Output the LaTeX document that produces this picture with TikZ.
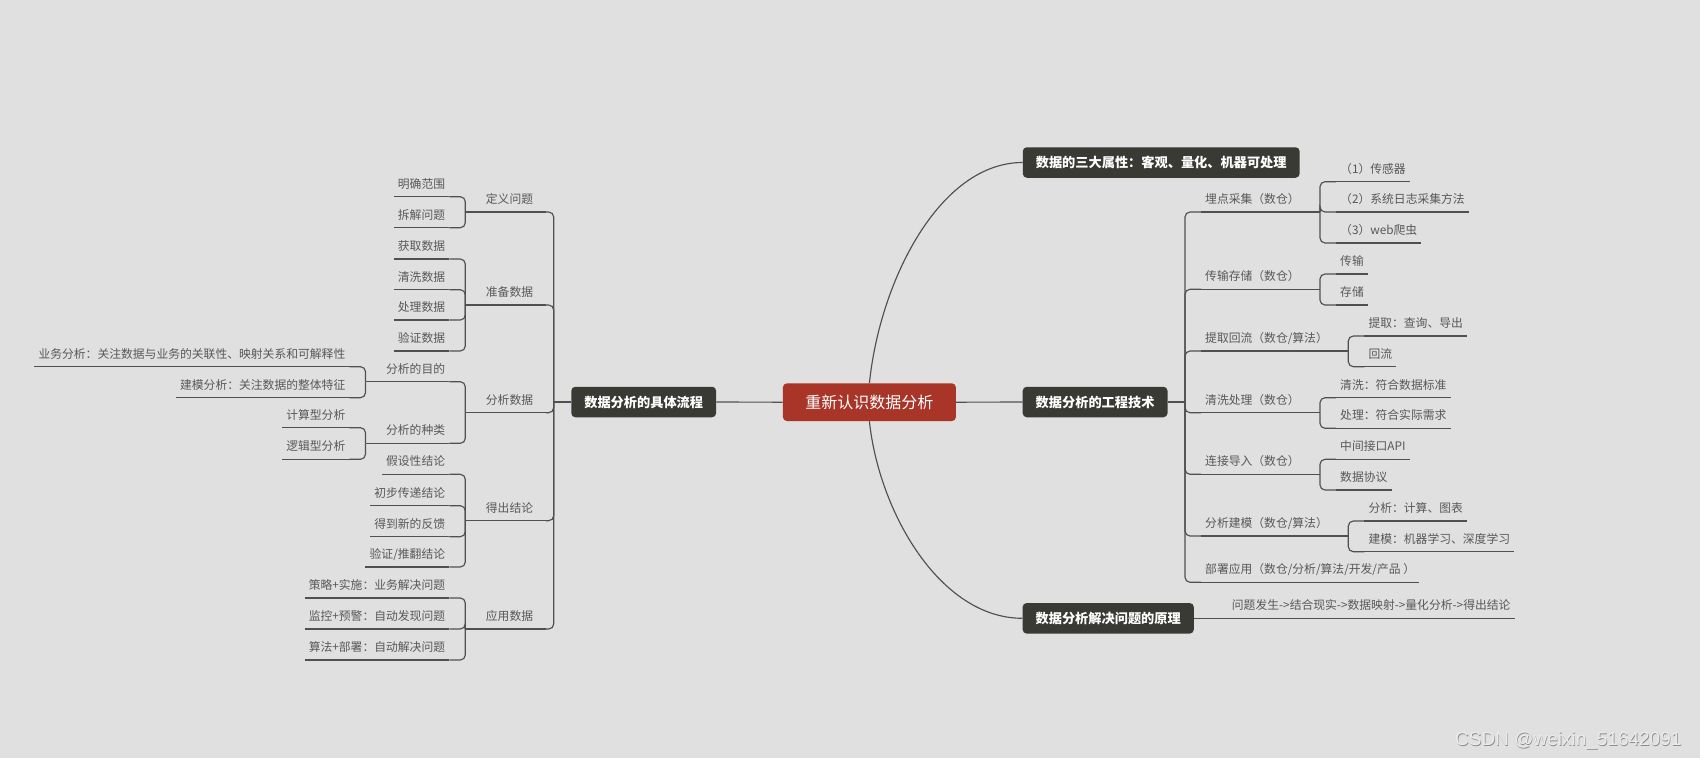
\documentclass[tikz,border=0pt]{standalone}
\usepackage{fontspec}
\setmainfont{Noto Sans CJK SC}
\newfontfamily\wmfont{Liberation Sans}
\definecolor{bgc}{HTML}{E0E0E0}
\definecolor{darkc}{HTML}{3A3A34}
\definecolor{redc}{HTML}{A83527}
\definecolor{linec}{HTML}{505050}
\definecolor{leafc}{HTML}{585858}
\tikzset{
  conn/.style={draw=linec, line width=1.15pt},
  br/.style={conn, rounded corners=5pt},
  leaf/.style={font=\fontsize{11.8}{14}\selectfont, text=leafc, inner xsep=4pt, inner ysep=6.8pt,
    text height=10.4pt, text depth=1.4pt,
    append after command={(\tikzlastnode.south west) edge[conn] (\tikzlastnode.south east)}},
  lleaf/.style={leaf, anchor=south east},
  rleaf/.style={leaf, anchor=south west},
  ltopic/.style={leaf, anchor=south, minimum width=72.4pt},
  topic/.style={fill=darkc, text=white, rounded corners=4pt, font=\fontsize{13.2}{15}\selectfont\bfseries,
    inner xsep=13pt, inner ysep=0pt, minimum height=30.5pt, text height=11.6pt, text depth=1.6pt},
  central/.style={fill=redc, text=white, rounded corners=4pt, font=\fontsize{16}{18}\selectfont,
    inner xsep=22.5pt, inner ysep=0pt, minimum height=37.7pt, text height=14.1pt, text depth=1.9pt},
  wmark/.style={font=\wmfont\fontsize{19}{22}\selectfont},
}
\begin{document}
\begin{tikzpicture}[x=1pt,y=-1pt]
\useasboundingbox (0,0) rectangle (1700,758);
\fill[bgc] (0,0) rectangle (1700,758);

% main nodes
\node[central] (C) at (869.4,402.2) {重新认识数据分析};
\node[topic] (L) at (643.7,402) {数据分析的具体流程};
\node[topic] (R) at (1095.1,402) {数据分析的工程技术};
\node[topic] (T) at (1161.2,162.5) {数据的三大属性：客观、量化、机器可处理};
\node[topic] (B) at (1108.2,618.3) {数据分析解决问题的原理};

\draw[conn] (C.west) -- (L.east);
\draw[conn] (C.east) -- (R.west);
\draw[conn] (C.north) .. controls (880,280) and (940,162.5) .. (T.west);
\draw[conn] (C.south) .. controls (879,512) and (940,618.3) .. (B.west);

% ---------- left side ----------
\coordinate (LT) at (553.7,402);
\draw[conn] (L.west) -- (LT);

\node[ltopic] (def) at (509.5,212) {定义问题};
\node[ltopic] (prep) at (509.5,305) {准备数据};
\node[ltopic] (ana) at (509.5,412.7) {分析数据};
\node[ltopic] (con) at (509.5,520.7) {得出结论};
\node[ltopic] (app) at (509.5,629) {应用数据};
\foreach \n in {def,prep,ana,con,app} \draw[br] (LT) |- (\n.south east);

\node[lleaf] (d1) at (449.3,196.7) {明确范围};
\node[lleaf] (d2) at (449.3,227.7) {拆解问题};
\node[lleaf] (p1) at (449.3,259) {获取数据};
\node[lleaf] (p2) at (449.3,289.7) {清洗数据};
\node[lleaf] (p3) at (449.3,320) {处理数据};
\node[lleaf] (p4) at (449.3,351) {验证数据};
\node[lleaf] (a1) at (449.3,381.7) {分析的目的};
\node[lleaf] (a2) at (449.3,443.3) {分析的种类};
\node[lleaf] (c1) at (449.3,474.3) {假设性结论};
\node[lleaf] (c2) at (449.3,505.7) {初步传递结论};
\node[lleaf] (c3) at (449.3,536.7) {得到新的反馈};
\node[lleaf] (c4) at (449.3,567) {验证/推翻结论};
\node[lleaf] (u1) at (449.3,598) {策略+实施：业务解决问题};
\node[lleaf] (u2) at (449.3,629) {监控+预警：自动发现问题};
\node[lleaf] (u3) at (449.3,660) {算法+部署：自动解决问题};

\coordinate (defB) at (465.3,212);
\coordinate (prepB) at (465.3,305);
\coordinate (anaB) at (465.3,412.7);
\coordinate (conB) at (465.3,520.7);
\coordinate (appB) at (465.3,629);
\draw[conn] (def.south west) -- (defB);
\draw[conn] (prep.south west) -- (prepB);
\draw[conn] (ana.south west) -- (anaB);
\draw[conn] (con.south west) -- (conB);
\draw[conn] (app.south west) -- (appB);
\foreach \n in {d1,d2} \draw[br] (defB) |- (\n.south east);
\foreach \n in {p1,p2,p3,p4} \draw[br] (prepB) |- (\n.south east);
\foreach \n in {a1,a2} \draw[br] (anaB) |- (\n.south east);
\foreach \n in {c1,c2,c3,c4} \draw[br] (conB) |- (\n.south east);
\foreach \n in {u1,u2,u3} \draw[br] (appB) |- (\n.south east);

\node[lleaf] (g1) at (349.5,366.7) {业务分析：关注数据与业务的关联性、映射关系和可解释性};
\node[lleaf] (g2) at (349.5,397.7) {建模分析：关注数据的整体特征};
\node[lleaf] (k1) at (349.5,427.7) {计算型分析};
\node[lleaf] (k2) at (349.5,459.3) {逻辑型分析};
\coordinate (a1B) at (365.5,381.7);
\coordinate (a2B) at (365.5,443.3);
\draw[conn] (a1.south west) -- (a1B);
\draw[conn] (a2.south west) -- (a2B);
\foreach \n in {g1,g2} \draw[br] (a1B) |- (\n.south east);
\foreach \n in {k1,k2} \draw[br] (a2B) |- (\n.south east);

% ---------- right side ----------
\coordinate (RT) at (1185,402);
\draw[conn] (R.east) -- (RT);

\node[rleaf] (r1) at (1201,212) {埋点采集（数仓）};
\node[rleaf] (r2) at (1201,289.3) {传输存储（数仓）};
\node[rleaf] (r3) at (1201,351) {提取回流（数仓/算法）};
\node[rleaf] (r4) at (1201,412.7) {清洗处理（数仓）};
\node[rleaf] (r5) at (1201,474.3) {连接导入（数仓）};
\node[rleaf] (r6) at (1201,536) {分析建模（数仓/算法）};
\node[rleaf] (r7) at (1201,582.3) {部署应用（数仓/分析/算法/开发/产品 ）};
\foreach \n in {r1,r2,r3,r4,r5,r6,r7} \draw[br] (RT) |- (\n.south west);

\node[rleaf] (s11) at (1336,181.7) {（1）传感器};
\node[rleaf] (s12) at (1336,212) {（2）系统日志采集方法};
\node[rleaf] (s13) at (1336,243) {（3）web爬虫};
\node[rleaf] (s21) at (1336,274) {传输};
\node[rleaf] (s22) at (1336,305) {存储};
\node[rleaf] (s31) at (1364.3,336) {提取：查询、导出};
\node[rleaf] (s32) at (1364.3,366.7) {回流};
\node[rleaf] (s41) at (1336,397.7) {清洗：符合数据标准};
\node[rleaf] (s42) at (1336,428.3) {处理：符合实际需求};
\node[rleaf] (s51) at (1336,459.3) {中间接口API};
\node[rleaf] (s52) at (1336,490) {数据协议};
\node[rleaf] (s61) at (1364.3,521) {分析：计算、图表};
\node[rleaf] (s62) at (1364.3,551.7) {建模：机器学习、深度学习};

\coordinate (r1B) at (1320,212);
\coordinate (r2B) at (1320,289.3);
\coordinate (r3B) at (1348.3,351);
\coordinate (r4B) at (1320,412.7);
\coordinate (r5B) at (1320,474.3);
\coordinate (r6B) at (1348.3,536);
\foreach \n in {1,...,6} \draw[conn] (r\n.south east) -- (r\n B);
\foreach \n in {s11,s12,s13} \draw[br] (r1B) |- (\n.south west);
\foreach \n in {s21,s22} \draw[br] (r2B) |- (\n.south west);
\foreach \n in {s31,s32} \draw[br] (r3B) |- (\n.south west);
\foreach \n in {s41,s42} \draw[br] (r4B) |- (\n.south west);
\foreach \n in {s51,s52} \draw[br] (r5B) |- (\n.south west);
\foreach \n in {s61,s62} \draw[br] (r6B) |- (\n.south west);

\node[rleaf] (pr) at (1227.7,618.3) {问题发生->结合现实->数据映射->量化分析->得出结论};
\draw[conn] (B.east) -- (pr.south west);

% watermark
\node[wmark, text=black!45] (wms) at (1569,741) {CSDN @weixin\_51642091};
\node[wmark, text=white!92!black] (wm) at (1568.3,740) {CSDN @weixin\_51642091};
\end{tikzpicture}
\end{document}
